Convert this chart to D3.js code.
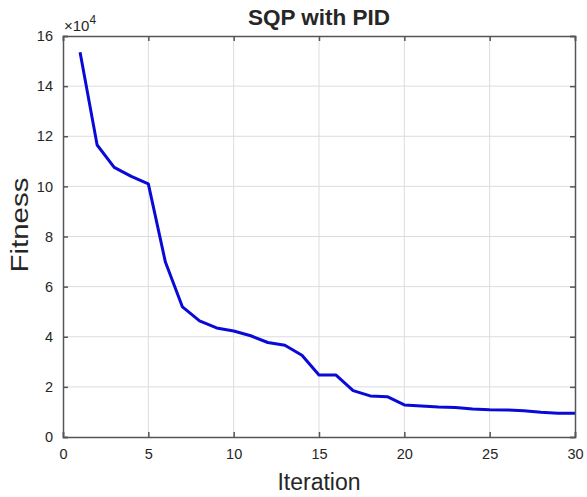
<!DOCTYPE html>
<html>
<head>
<meta charset="utf-8">
<script src="https://cdn.jsdelivr.net/npm/d3@7"></script>
<style>
  body { margin: 0; background: #fff; }
  text { font-family: "Liberation Sans", Arial, sans-serif; fill: #262626; }
</style>
</head>
<body>
<svg id="chart" width="587" height="497"></svg>
<script>
// fitness per iteration, in units of 1e4
var iterations = d3.range(1, 31);
var fitness = [15.35, 11.65, 10.76, 10.4, 10.1, 6.98, 5.19, 4.63, 4.35, 4.23,
               4.04, 3.77, 3.66, 3.26, 2.47, 2.47, 1.85, 1.64, 1.61, 1.28,
               1.24, 1.2, 1.18, 1.12, 1.09, 1.08, 1.05, 0.99, 0.95, 0.95];
var xTicks = [0, 5, 10, 15, 20, 25, 30];
var yTicks = [0, 2, 4, 6, 8, 10, 12, 14, 16];

var margin = {left: 63, right: 12, top: 36, bottom: 60};
var W = 587, H = 497;
var svg = d3.select("#chart");

var x = d3.scaleLinear().domain([0, 30]).range([margin.left, W - margin.right]);
var y = d3.scaleLinear().domain([0, 16]).range([H - margin.bottom, margin.top]);

// grid
var grid = svg.append("g").attr("stroke", "#dcdcdc").attr("stroke-width", 1);
grid.selectAll(".vx").data(xTicks.slice(1, -1)).enter().append("line")
    .attr("x1", function (d) { return x(d); }).attr("x2", function (d) { return x(d); })
    .attr("y1", y(0)).attr("y2", y(16));
grid.selectAll(".hy").data(yTicks.slice(1, -1)).enter().append("line")
    .attr("y1", function (d) { return y(d); }).attr("y2", function (d) { return y(d); })
    .attr("x1", x(0)).attr("x2", x(30));

// line
var line = d3.line()
    .x(function (d, i) { return x(iterations[i]); })
    .y(function (d) { return y(d); });
svg.append("path").datum(fitness)
    .attr("d", line)
    .attr("fill", "none")
    .attr("stroke", "#0a0ad6")
    .attr("stroke-width", 3)
    .attr("stroke-linejoin", "round");

// axes (MATLAB style: inward ticks, box)
var xAxis = d3.axisBottom(x).tickValues(xTicks).tickSize(-5).tickPadding(12);
var yAxis = d3.axisLeft(y).tickValues(yTicks).tickSize(-5).tickPadding(10);
var xTop = d3.axisTop(x).tickValues(xTicks).tickSize(-5).tickFormat("");
var yRight = d3.axisRight(y).tickValues(yTicks).tickSize(-5).tickFormat("");

function style(g) {
    g.selectAll("path, line").attr("stroke", "#555").attr("stroke-width", 1.5);
    g.selectAll("text").attr("font-size", 14.5).attr("fill", "#262626");
}
svg.append("g").attr("transform", "translate(0," + y(0) + ")").call(xAxis).call(style);
svg.append("g").attr("transform", "translate(" + x(0) + ",0)").call(yAxis).call(style);
svg.append("g").attr("transform", "translate(0," + y(16) + ")").call(xTop).call(style);
svg.append("g").attr("transform", "translate(" + x(30) + ",0)").call(yRight).call(style);

// exponent
var ex = svg.append("text").attr("x", x(0) + 1).attr("y", 31).attr("font-size", 15);
ex.append("tspan").text("\u00d710");
ex.append("tspan").attr("dy", -7).attr("font-size", 12).text("4");

// title and labels
svg.append("text").attr("x", 319).attr("y", 25)
    .attr("text-anchor", "middle").attr("font-size", 22.5).attr("font-weight", "bold")
    .attr("fill", "#000").text("SQP with PID");
svg.append("text").attr("x", (x(0) + x(30)) / 2).attr("y", 490)
    .attr("text-anchor", "middle").attr("font-size", 23).text("Iteration");
svg.append("text").attr("transform", "translate(28," + 225 + ") rotate(-90) scale(1.28,1)")
    .attr("text-anchor", "middle").attr("font-size", 23).text("Fitness");
</script>
</body>
</html>
